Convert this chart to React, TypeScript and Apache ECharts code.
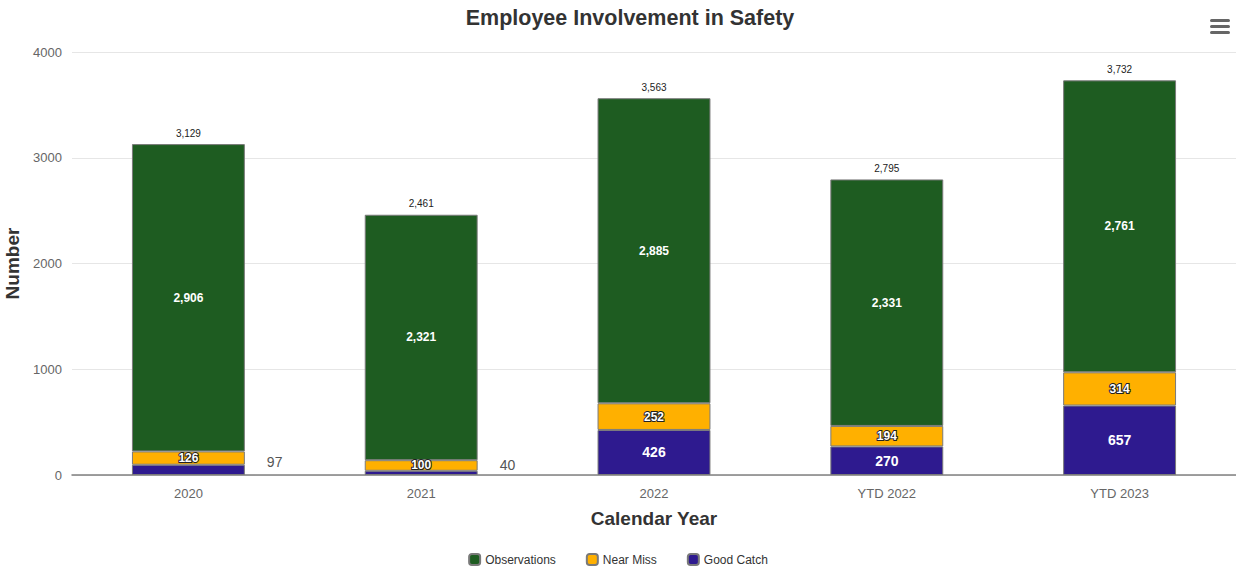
import React, { useEffect, useRef } from "react";
import * as echarts from "echarts";

const categories = ["2020", "2021", "2022", "YTD 2022", "YTD 2023"];
const goodCatch = [97, 40, 426, 270, 657];
const nearMiss = [126, 100, 252, 194, 314];
const observations = [2906, 2321, 2885, 2331, 2761];
const yTicks = { min: 0, max: 4000, interval: 1000 };

const fmt = (v: number) => v.toLocaleString("en-US");
const FONT = "'Liberation Sans', Arial, sans-serif";

export default function App() {
  const ref = useRef<HTMLDivElement>(null);
  useEffect(() => {
    document.body.style.margin = "0";
    const chart = echarts.init(ref.current!, null, { renderer: "svg" });
    const totals = categories.map((_, i) => goodCatch[i] + nearMiss[i] + observations[i]);
    const border = { borderColor: "#7a7a7a", borderWidth: 1 };
    chart.setOption({
      animation: false,
      textStyle: { fontFamily: FONT },
      legend: {
        top: 548,
        left: "center",
        data: ["Observations", "Near Miss", "Good Catch"],
        itemWidth: 11,
        itemHeight: 11,
        itemGap: 30,
        icon: "roundRect",
        textStyle: { fontSize: 12, color: "#333", fontFamily: FONT },
      },
      grid: { left: 72, right: 0, top: 52, bottom: 92, containLabel: false, outerBoundsMode: "none" },
      xAxis: {
        type: "category",
        data: categories,
        name: "Calendar Year",
        nameLocation: "middle",
        nameGap: 34,
        nameTextStyle: { fontSize: 19, fontWeight: "bold", color: "#333", fontFamily: FONT },
        axisLine: { lineStyle: { color: "#808080", width: 1.5 } },
        axisTick: { show: false },
        axisLabel: { color: "#666", fontSize: 13, margin: 12 },
      },
      yAxis: {
        type: "value",
        min: yTicks.min,
        max: yTicks.max,
        interval: yTicks.interval,
        name: "Number",
        nameLocation: "middle",
        nameGap: 49,
        nameTextStyle: { fontSize: 19, fontWeight: "bold", color: "#333", fontFamily: FONT },
        axisLine: { show: false },
        axisTick: { show: false },
        axisLabel: { color: "#666", fontSize: 13, margin: 10, formatter: (v: number) => String(v) },
        splitLine: { lineStyle: { color: "#e6e6e6" } },
      },
      graphic: [
        {
          type: "text",
          x: 630,
          y: 18,
          style: {
            text: "Employee Involvement in Safety",
            align: "center",
            verticalAlign: "middle",
            fontSize: 21.5,
            fontWeight: "bold",
            fontFamily: FONT,
            fill: "#333",
          },
        },
        { type: "rect", right: 6, top: 19, shape: { width: 20, height: 3, r: 1.5 }, style: { fill: "#666" } },
        { type: "rect", right: 6, top: 25, shape: { width: 20, height: 3, r: 1.5 }, style: { fill: "#666" } },
        { type: "rect", right: 6, top: 31, shape: { width: 20, height: 3, r: 1.5 }, style: { fill: "#666" } },
      ],
      series: [
        {
          name: "Good Catch",
          type: "bar",
          stack: "s",
          barWidth: "48.5%",
          itemStyle: { color: "#2e1a8f", ...border },
          data: goodCatch.map((v) =>
            v < 100
              ? {
                  value: v,
                  label: {
                    show: true,
                    position: "right",
                    distance: 22,
                    offset: [0, -8],
                    color: "#555",
                    fontWeight: "normal",
                    fontSize: 14,
                  },
                }
              : v
          ),
          label: {
            show: true,
            position: "inside",
            color: "#fff",
            fontWeight: "bold",
            fontSize: 14,
            formatter: (p: any) => fmt(p.value),
          },
        },
        {
          name: "Near Miss",
          type: "bar",
          stack: "s",
          itemStyle: { color: "#ffb000", ...border },
          data: nearMiss,
          label: {
            show: true,
            position: "inside",
            color: "#fff",
            fontWeight: "bold",
            fontSize: 12,
            textBorderColor: "#222",
            textBorderWidth: 2,
            formatter: (p: any) => fmt(p.value),
          },
        },
        {
          name: "Observations",
          type: "bar",
          stack: "s",
          itemStyle: { color: "#1e5c21", ...border },
          data: observations,
          label: {
            show: true,
            position: "inside",
            color: "#fff",
            fontWeight: "bold",
            fontSize: 12,
            formatter: (p: any) => fmt(p.value),
          },
        },
        {
          name: "Total",
          type: "bar",
          stack: "s",
          itemStyle: { color: "transparent" },
          data: totals.map(() => 0),
          label: {
            show: true,
            position: "top",
            distance: 6,
            color: "#222",
            fontSize: 10,
            formatter: (p: any) => fmt(totals[p.dataIndex]),
          },
          silent: true,
        },
      ],
    });
    return () => chart.dispose();
  }, []);
  return <div ref={ref} style={{ width: 1236, height: 567 }} />;
}
